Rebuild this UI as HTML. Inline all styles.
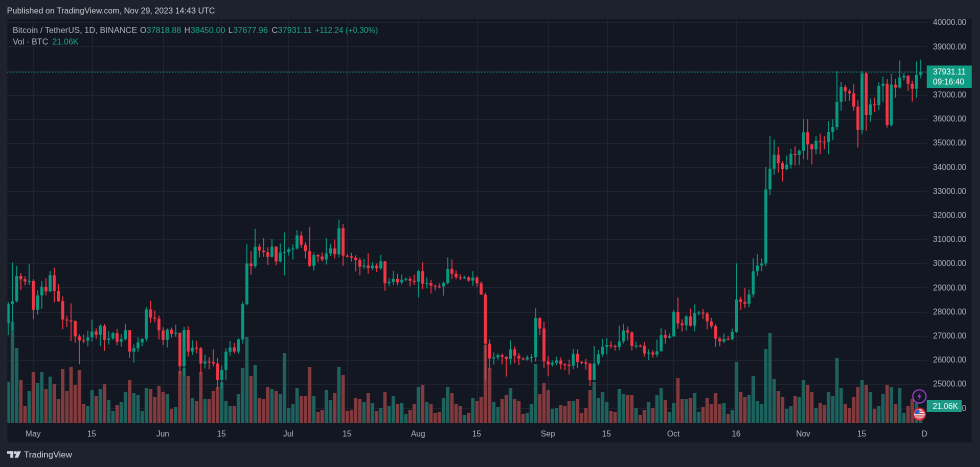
<!DOCTYPE html>
<html><head><meta charset="utf-8">
<style>
html,body{margin:0;padding:0;background:#1e222d;}
body{width:980px;height:467px;overflow:hidden;position:relative;font-family:"Liberation Sans",sans-serif;}
svg{position:absolute;left:0;top:0;}
text{font-family:"Liberation Sans",sans-serif;}
</style></head>
<body>
<svg id="s" width="980" height="467" viewBox="0 0 980 467" xmlns="http://www.w3.org/2000/svg">
  <defs>
    <clipPath id="plot"><rect x="7.3" y="19" width="919.7" height="404"/></clipPath>
    <clipPath id="taxis"><rect x="7.3" y="423" width="919.7" height="20"/></clipPath>
  </defs>
  <rect x="0" y="0" width="980" height="467" fill="#1e222d"/>
  <rect x="7.3" y="19" width="964.4" height="423.3" fill="#131722"/>
  <g id="grid" stroke="#1f2330" stroke-width="1"></g>
  <g id="vol" clip-path="url(#plot)"></g>
  <g id="cnd" clip-path="url(#plot)"></g>
  <line x1="7.3" y1="72.2" x2="927" y2="72.2" stroke="#089981" stroke-width="1" stroke-dasharray="1,2"/>

  <!-- header -->
  <text x="7" y="13.6" font-size="8.5" fill="#c9ccd3" textLength="208" lengthAdjust="spacingAndGlyphs">Published on TradingView.com, Nov 29, 2023 14:43 UTC</text>

  <!-- legend -->
  <g font-size="8.3" fill="#b2b5be">
    <text x="12.7" y="33" textLength="124.5" lengthAdjust="spacingAndGlyphs">Bitcoin / TetherUS, 1D, BINANCE</text>
    <text x="140" y="33">O</text><text x="146.5" y="33" fill="#1ea48c">37818.88</text>
    <text x="184.3" y="33">H</text><text x="190.6" y="33" fill="#1ea48c">38450.00</text>
    <text x="228.3" y="33">L</text><text x="233.3" y="33" fill="#1ea48c">37677.96</text>
    <text x="271.7" y="33">C</text><text x="277.9" y="33" fill="#1ea48c">37931.11</text>
    <text x="315" y="33" fill="#1ea48c" textLength="63" lengthAdjust="spacingAndGlyphs">+112.24 (+0.30%)</text>
    <text x="12.7" y="44.3">Vol · BTC</text>
    <text x="52.3" y="44.3" fill="#1ea48c">21.06K</text>
  </g>

  <!-- price axis labels -->
  <g font-size="8" fill="#b2b5be">
    <text x="933" y="25.2">40000.00</text>
    <text x="933" y="49.3">39000.00</text>
    <text x="933" y="73.4">38000.00</text>
    <text x="933" y="97.5">37000.00</text>
    <text x="933" y="121.6">36000.00</text>
    <text x="933" y="145.7">35000.00</text>
    <text x="933" y="169.8">34000.00</text>
    <text x="933" y="193.9">33000.00</text>
    <text x="933" y="218">32000.00</text>
    <text x="933" y="242.1">31000.00</text>
    <text x="933" y="266.2">30000.00</text>
    <text x="933" y="290.3">29000.00</text>
    <text x="933" y="314.4">28000.00</text>
    <text x="933" y="338.5">27000.00</text>
    <text x="933" y="362.6">26000.00</text>
    <text x="933" y="386.7">25000.00</text>
    <text x="933" y="410.8">24000.00</text>
  </g>

  <!-- time axis labels -->
  <g font-size="8" fill="#b2b5be" text-anchor="middle" clip-path="url(#taxis)">
    <text x="33.1" y="436.3">May</text>
    <text x="91.7" y="436.3">15</text>
    <text x="162.8" y="436.3">Jun</text>
    <text x="221.4" y="436.3">15</text>
    <text x="288.4" y="436.3">Jul</text>
    <text x="347" y="436.3">15</text>
    <text x="418.1" y="436.3">Aug</text>
    <text x="476.7" y="436.3">15</text>
    <text x="547.9" y="436.3">Sep</text>
    <text x="606.5" y="436.3">15</text>
    <text x="673.4" y="436.3">Oct</text>
    <text x="736.2" y="436.3">16</text>
    <text x="803.2" y="436.3">Nov</text>
    <text x="861.7" y="436.3">15</text>
    <text x="928.7" y="436.3">Dec</text>
  </g>

  <!-- last price label -->
  <rect x="926.8" y="65.5" width="45" height="22.5" fill="#0f9c83"/>
  <text x="933" y="74.3" font-size="8" fill="#ffffff">37931.11</text>
  <text x="933" y="84.4" font-size="8" fill="#ffffff">09:16:40</text>

  <!-- volume label -->
  <rect x="926.8" y="400" width="35" height="12" fill="#1d9a86"/>
  <text x="932.7" y="409.2" font-size="8" fill="#ffffff">21.06K</text>

  <!-- icons -->
  <circle cx="919.4" cy="396.4" r="6.6" fill="#131722" stroke="#9c3fd0" stroke-width="1.2"/>
  <path d="M920.6 392.2 L917.3 397 L919.4 397 L918.2 400.6 L921.6 395.6 L919.5 395.6 Z" fill="#9c3fd0"/>
  <circle cx="919.4" cy="414.2" r="6.7" fill="#c4202e"/>
  <circle cx="919.4" cy="414.2" r="5.2" fill="#f2f2f2"/>
  <rect x="915" y="410.6" width="8.8" height="1.1" fill="#d22b3a"/>
  <rect x="915" y="413" width="8.8" height="1.1" fill="#d22b3a"/>
  <rect x="915" y="415.4" width="8.8" height="1.1" fill="#d22b3a"/>
  <rect x="915" y="417.6" width="8.8" height="1.1" fill="#d22b3a"/>
  <path d="M914.6 414 A4.9 4.9 0 0 1 919.4 409.2 L919.4 414 Z" fill="#2e5fc4"/>

  <!-- footer -->
  <g fill="#d1d4dc">
    <rect x="7" y="451.2" width="6.2" height="2.6"/>
    <rect x="10.2" y="451.2" width="3" height="6.6"/>
    <circle cx="15.4" cy="452.6" r="1.5"/>
    <polygon points="17.3,451.2 21,451.2 18.1,457.8 14.6,457.8"/>
  </g>
  <text x="24" y="457.4" font-size="8.6" fill="#d1d4dc" textLength="48" lengthAdjust="spacingAndGlyphs">TradingView</text>
</svg>
<script>
(function(){
var NS="http://www.w3.org/2000/svg";
function Y(p){return 22.3+(40000-p)*0.0241;}
function X(i){return 8.3+4.185*i;}
function r(g,x,y,w,h,f){var e=document.createElementNS(NS,"rect");e.setAttribute("x",x.toFixed(2));e.setAttribute("y",y.toFixed(2));e.setAttribute("width",w.toFixed(2));e.setAttribute("height",Math.max(h,1).toFixed(2));e.setAttribute("fill",f);g.appendChild(e);}
var grid=document.getElementById("grid");
for(var p=24000;p<=40000;p+=1000){var l=document.createElementNS(NS,"line");var y=Math.round(Y(p))+0.5;l.setAttribute("x1","7.3");l.setAttribute("x2","927");l.setAttribute("y1",y);l.setAttribute("y2",y);grid.appendChild(l);}
[33.1,91.7,162.8,221.4,288.4,347,418.1,476.7,547.9,606.5,673.4,736.2,803.2,861.7].forEach(function(x){var l=document.createElementNS(NS,"line");x=Math.round(x)+0.5;l.setAttribute("x1",x);l.setAttribute("x2",x);l.setAttribute("y1","19");l.setAttribute("y2","423");grid.appendChild(l);});
var D=[
27514,28400,27020,28307, 28307,30036,27235,28422, 28422,29890,28381,29473, 29473,29599,28891,29340, 29340,29460,29088,29248, 29248,29960,29100,29268,
29268,29338,27680,28068, 28068,28879,27872,28669, 28669,29266,28113,29026, 29026,29379,28667,28838, 28838,29677,28800,29505, 29505,29820,28378,28848, 28848,29138,28395,28430, 28430,28631,27262,27668, 27668,27820,27353,27628, 27628,28336,26777,27598,
27598,27636,26702,26969, 26969,27060,25811,26804, 26804,27040,26686,26784, 26784,27200,26560,26930, 26930,27663,26750,27170, 27170,27299,26866,27033, 27033,27465,26560,27405, 27405,27485,26361,26821, 26821,27183,26630,26880, 26880,27150,26825,27102,
27102,27275,26600,26747, 26747,27060,26538,26850, 26850,27495,26800,27225, 27225,27225,26080,26334, 26334,26631,25871,26476, 26476,26933,26325,26719, 26719,26888,26560,26868, 26868,28193,26760,28085, 28085,28447,27524,27745, 27745,28045,27554,27702, 27702,27835,26839,27219,
27219,27350,26605,26819, 26819,27300,26505,27249, 27249,27333,26917,27069, 27069,27455,26952,27115, 27115,27129,25388,25728, 25728,27355,25351,27230, 27230,27391,26123,26339, 26339,26810,26200,26498, 26498,26783,26269,26477, 26477,26533,25400,25841,
25841,26206,25630,25925, 25925,26098,25602,25902, 25902,26433,25728,25841, 25841,26077,24820,25159, 25159,25750,24800,25576, 25576,26478,25155,26327, 26327,26775,26160,26510, 26510,26700,26256,26336, 26336,26888,26250,26841, 26841,28400,26665,28307,
28307,30800,28257,29993, 29993,30500,29526,29884, 29884,31431,29800,30688, 30688,30800,30250,30527, 30527,31046,30270,30462, 30462,30666,29930,30267, 30267,31006,30236,30692, 30692,30705,29920,30077, 30077,30828,30036,30446, 30446,31282,29500,30472,
30472,30661,30320,30585, 30585,30791,30155,30617, 30617,31380,30565,31156, 31156,31326,30635,30766, 30766,30877,30200,30504, 30504,31500,29850,29895, 29895,30449,29701,30344, 30344,30386,30045,30284, 30284,30445,30073,30160, 30160,31045,29950,30411,
30411,30813,30300,30620, 30620,30983,30200,30380, 30380,31814,30250,31454, 31454,31630,29900,30312, 30312,30390,30250,30289, 30289,30440,30075,30231, 30231,30336,29659,30138, 30138,30233,29500,29859, 29859,30184,29768,29909, 29909,30417,29565,29800,
29800,30045,29720,29901, 29901,29999,29640,29794, 29794,30350,29730,30083, 30083,30099,28861,29176, 29176,29376,29047,29228, 29228,29690,29096,29354, 29354,29567,29083,29210, 29210,29530,29125,29316, 29316,29415,29256,29355, 29355,29450,29035,29275, 29275,29530,29101,29230,
29230,29737,28585,29675, 29675,30047,28927,29151, 29151,29409,28960,29176, 29176,29314,28750,29075, 29075,29115,28876,29042, 29042,29170,28960,29041, 29041,29245,28657,29180, 29180,30244,29126,29766, 29766,30160,29350,29563, 29563,29700,29335,29424,
29424,29550,29300,29397, 29397,29480,29350,29415, 29415,29470,29240,29283, 29283,29675,29063,29408, 29408,29460,29018,29170, 29170,29249,28701,28701, 28701,28783,25166,26664, 26664,26838,25620,26049, 26049,26299,25796,26096, 26096,26260,26004,26189,
26189,26258,25812,26124, 26124,26139,25300,26031, 26031,26800,25797,26431, 26431,26554,25852,26163, 26163,26281,25777,26047, 26047,26107,25983,26008, 26008,26180,25965,26089, 26089,26233,25880,26106, 26106,28142,25922,27727, 27727,27760,27026,27297, 27297,27575,25655,25931,
25931,26156,25333,25800, 25800,25970,25717,25868, 25868,26125,25770,25969, 25969,26089,25600,25812, 25812,25860,25565,25780, 25780,26000,25388,25753, 25753,26444,25615,26240, 26240,26430,25646,25906, 25906,25945,25810,25895, 25895,26033,25583,25832,
25832,25880,24901,25163, 25163,26566,25133,25840, 25840,26400,25764,26228, 26228,26860,26126,26539, 26539,26888,26224,26608, 26608,26777,26465,26568, 26568,26627,26377,26527, 26527,27409,26385,26762, 26762,27490,26674,27211, 27211,27379,26800,27133,
27133,27165,26384,26567, 26567,26743,26468,26580, 26580,26632,26509,26579, 26579,26738,26122,26256, 26256,26432,25990,26298, 26298,26397,26088,26217, 26217,26830,26111,26352, 26352,27308,26342,27021, 27021,27244,26665,26911, 26911,27094,26886,26967,
26967,28065,26954,27983, 27983,28580,27279,27505, 27505,27675,27160,27429, 27429,27841,27210,27794, 27794,28123,27375,27410, 27410,28295,27175,27931, 27931,28029,27842,27956, 27956,28095,27687,27917, 27917,27987,27260,27590, 27590,27735,27298,27392,
27392,27477,26538,26873, 26873,26947,26558,26756, 26756,27093,26686,26862, 26862,26989,26815,26852, 26852,27289,26800,27154, 27154,30000,27112,28500, 28500,28613,28069,28395, 28395,28982,28142,28320, 28320,28916,28175,28713, 28713,30207,28585,29670,
29670,30380,29460,29909, 29909,30199,29670,29992, 29992,34000,29883,33069, 33069,35280,32832,33922, 33922,35132,33670,34502, 34502,34832,33762,34156, 34156,34245,33390,33909, 33909,34480,33860,34089, 34089,34750,33930,34538, 34538,34856,34053,34502, 34502,34719,34075,34667,
34667,35985,34320,35437, 35437,35984,34300,34938, 34938,34945,34097,34732, 34732,35275,34525,35082, 35082,35380,34532,35049, 35049,35275,34731,35037, 35037,35892,34525,35443, 35443,35980,35107,35655, 35655,37972,35534,36693, 36693,37526,36334,37313,
37313,37405,36720,37138, 37138,37228,36742,37054, 37054,37430,36333,36502, 36502,36766,34800,35537, 35537,37980,35360,37880, 37880,37930,35500,36154, 36154,36845,35875,36596, 36596,36874,36280,36568, 36568,37509,36350,37359, 37359,37750,36697,37448,
37448,37651,35632,35741, 35741,37867,35668,37408, 37408,37653,36870,37294, 37294,38414,37251,37713, 37713,37888,37591,37780, 37780,37814,37150,37447, 37447,37569,36707,37242, 37242,38377,36868,37818, 37818,38450,37677,37931
];
var V=[381.7,321.7,348,380,406,391,372,383,372,389,
376.7,384,399,369,391,367,385,370,404,406,
390,396,389,384,400,411,405,402,392,380,
393,395,411,388,389,397,386,392,394,409,
407,371,368,376,398,401,372,399,399,391,
387,382,401,406,406,394,368,337,376,365,
398,399,387,389,391,394,353,408,404,388,
396,396,367,396,412,410,390,400,393,367,
375,411,410,398,399,402,393,403,411,408,
392,406,396,404,403,414,410,404,387,385,
402,404,413,412,398,387,393,404,406,415,
413,398,401,397,345,368,402,407,399,395,
388,399,401,414,413,404,364,394,383,390,
409,408,405,406,401,401,399,413,408,390,
382,398,392,402,411,412,389,394,395,395,
408,415,410,402,408,395,388,400,412,403,
378,399,399,398,393,412,407,398,404,393,
404,403,414,410,362,392,397,395,376,401,
404,349,333,379,391,397,409,406,396,397,
380,385,392,408,403,405,392,396,358,388,
404,408,397,387,380,385,392,409,406,394,
385,387,404,388,413,406,399,403,410];
var vg=document.getElementById("vol"),cg=document.getElementById("cnd");
var n=Math.floor(D.length/4);
for(var i=0;i<n;i++){
  var o=D[4*i],h=D[4*i+1],lo=D[4*i+2],c=D[4*i+3];
  var up=c>=o,x=X(i);
  if(i<V.length){var vt=V[i];r(vg,x-1.7,vt,3.4,423-vt,up?"#1d625d":"#813a3d");}
  var col=up?"#089981":"#f23645";
  r(cg,x-0.5,Y(h),1,Y(lo)-Y(h),col);
  var t=Y(Math.max(o,c)),b=Y(Math.min(o,c));
  r(cg,x-1.5,t,3,b-t,col);
}
})();
</script>
</body></html>
